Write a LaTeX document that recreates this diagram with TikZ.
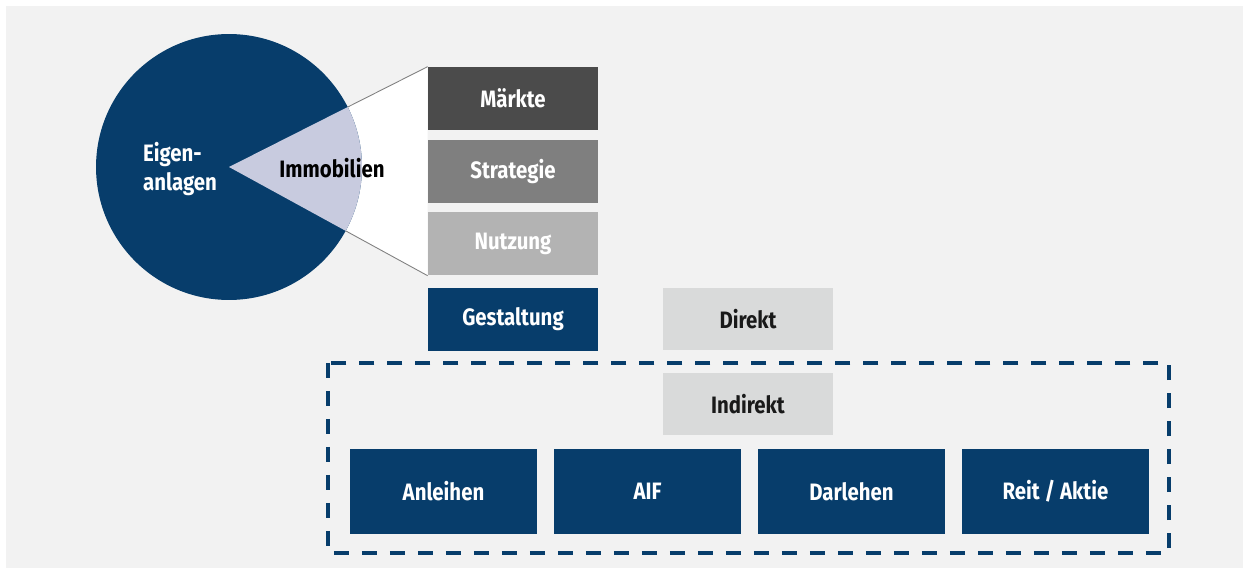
\documentclass[tikz,border=0pt]{standalone}
\usepackage{fontspec}
\setmainfont{Fira Sans}[FakeStretch=0.86]
\usepackage{tikz}
\usetikzlibrary{positioning}
\definecolor{navy}{RGB}{7,61,107}
\definecolor{paper}{RGB}{242,242,242}
\definecolor{slicecol}{RGB}{200,203,223}
\definecolor{darkbox}{RGB}{75,75,75}
\definecolor{midbox}{RGB}{127,127,127}
\definecolor{lightbox}{RGB}{179,179,179}
\definecolor{palebox}{RGB}{217,218,218}
\newcommand{\boxfont}{\fontsize{13.5}{16}\selectfont\bfseries}
\tikzset{stepbox/.style={rectangle,minimum width=3.4cm,minimum height=1.26cm,inner sep=0pt,
text centered,font=\boxfont,text=white},waybox/.style={stepbox,fill=palebox,text=black!90}}
\tikzstyle{vehicle} = [rectangle, fill=navy, text=white, minimum width=3.74cm,
                      minimum height=1.72cm, inner sep=0pt, text centered, font=\boxfont]
\tikzstyle{frame}   = [navy, line width=2pt, dash pattern=on 0.3cm off 0.26cm]

\begin{document}
\begin{tikzpicture}[x=0.02cm,y=-0.02cm]
		\fill[white] (0,0) rectangle (1249,574);
		\fill[paper] (6,6) rectangle (1243,568);
		\coordinate (apex) at (229,167);

		\node[stepbox,fill=darkbox] (maerkte) at (513,98.5) {Märkte};
		\node[stepbox,fill=midbox,below=0.18cm of maerkte] (strategie) {Strategie};
		\node[stepbox,fill=lightbox,below=0.18cm of strategie] (nutzung) {Nutzung};
		\node[stepbox,fill=navy,below=0.24cm of nutzung] (gestaltung) {Gestaltung};
		\node[waybox] (direkt) at (748,319) {Direkt};
		\node[waybox] (indirekt) at (748,404) {Indirekt};

		\fill[white] (apex) -- (maerkte.north west) -- (nutzung.south west) -- cycle;
		\draw[gray,line width=0.5pt] (apex) -- (maerkte.north west) (apex) -- (nutzung.south west);
		\fill[navy] (apex) circle[radius=2.66cm];
		\begin{scope}
			\clip (apex) circle[radius=2.66cm];
			\fill[slicecol] (apex) -- (maerkte.north west) -- (nutzung.south west) -- cycle;
		\end{scope}
		\node[font=\boxfont,text=white,align=left] (eigen) at (180,169) {Eigen-\\anlagen};
		\node[font=\boxfont,text=black] (immo) at (332,168) {Immobilien};

		\foreach \t[count=\i from 0] in {Anleihen,AIF,Darlehen,Reit / Aktie}
		\node[vehicle] (v\i) at (443.5+204*\i,491.5) {\t};

		\draw[frame] (328,363) rectangle (1169,553);
	\end{tikzpicture}
\end{document}
